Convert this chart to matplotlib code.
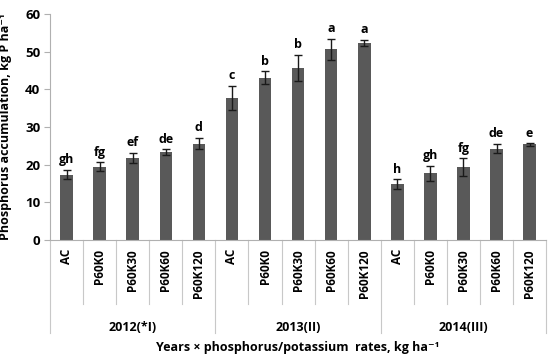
import numpy as np
import matplotlib.pyplot as plt
import matplotlib.transforms as mtransforms

plt.rcParams['font.family'] = ['Open Sans', 'DejaVu Sans']
plt.rcParams['font.weight'] = 'bold'

# Data
years = ['2012(*I)', '2013(II)', '2014(III)']
treatments = ['AC', 'P60K0', 'P60K30', 'P60K60', 'P60K120']
means = [17.4, 19.5, 21.8, 23.3, 25.6,
         37.7, 43.1, 45.7, 50.6, 52.3,
         14.8, 17.7, 19.4, 24.3, 25.4]
errors = [1.2, 1.1, 1.3, 0.8, 1.5,
          3.2, 1.7, 3.5, 2.8, 0.9,
          1.3, 2.0, 2.3, 1.2, 0.3]
letters = ['gh', 'fg', 'ef', 'de', 'd',
           'c', 'b', 'b', 'a', 'a',
           'h', 'gh', 'fg', 'de', 'e']

fig = plt.figure(figsize=(5.5, 3.61), dpi=100)
ax = fig.add_axes([0.091, 0.335, 0.902, 0.626])

n = len(means)
x = np.arange(n)
ax.bar(x, means, width=0.38, color='#595959', zorder=2)
ax.errorbar(x, means, yerr=errors, fmt='none', ecolor='#1a1a1a',
            elinewidth=1.0, capsize=3, capthick=1.0, zorder=3)

for xi, m, e, lab in zip(x, means, errors, letters):
    ax.text(xi, m + e + 1.0, lab, ha='center', va='bottom',
            fontsize=9, fontweight='bold')

ax.set_xlim(-0.5, n - 0.5)
ax.set_ylim(0, 60)
ax.set_yticks(np.arange(0, 61, 10))
ax.tick_params(axis='y', labelsize=9.5, length=4, color='#b0b0b0', pad=3)
ax.set_xticks([])
for s in ['top', 'right']:
    ax.spines[s].set_visible(False)
ax.spines['left'].set_color('#b0b0b0')
ax.spines['bottom'].set_color('#b0b0b0')

ax.set_ylabel('Phosphorus accumulation, kg P ha⁻¹', fontsize=9, fontweight='bold')
ax.yaxis.set_label_coords(-0.077, 0.5)

# category dividers and labels below the axis
trans = mtransforms.blended_transform_factory(ax.transData, ax.transAxes)
for k in range(n + 1):
    bottom = -0.41 if k % len(treatments) == 0 else -0.285
    ax.plot([k - 0.5, k - 0.5], [0, bottom], color='#c8c8c8', lw=0.8,
            transform=trans, clip_on=False)

for xi in x:
    ax.text(xi, -0.04, treatments[xi % len(treatments)], transform=trans,
            rotation=90, ha='center', va='top', fontsize=8.5, fontweight='bold')

for g, yr in enumerate(years):
    xc = g * len(treatments) + (len(treatments) - 1) / 2
    ax.text(xc, -0.385, yr, transform=trans, ha='center', va='center',
            fontsize=9, fontweight='bold')

ax.text(0.5, -0.475, 'Years × phosphorus/potassium  rates, kg ha⁻¹',
        transform=ax.transAxes, ha='center', va='center',
        fontsize=9, fontweight='bold')

fig.savefig('out.png', dpi=100)
